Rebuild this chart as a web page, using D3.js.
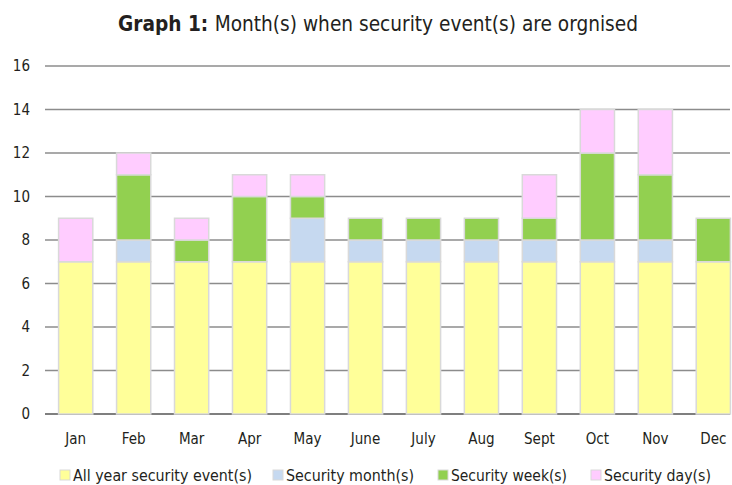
<!DOCTYPE html>
<html lang="en">
<head>
<meta charset="UTF-8">
<title>Graph 1</title>
<script src="https://cdnjs.cloudflare.com/ajax/libs/d3/7.8.5/d3.min.js"></script>
<style>
    body { margin: 0; background: #fff; }
    svg { display: block; font-family: "Liberation Sans Narrow", "DejaVu Sans Condensed", "DejaVu Sans", sans-serif; }
</style>
</head>
<body>
<svg id="chart" width="732" height="485"></svg>
<script>
// data
const months = ["Jan", "Feb", "Mar", "Apr", "May", "June", "July", "Aug", "Sept", "Oct", "Nov", "Dec"];
const allYear = [7, 7, 7, 7, 7, 7, 7, 7, 7, 7, 7, 7];
const secMonth = [0, 1, 0, 0, 2, 1, 1, 1, 1, 1, 1, 0];
const secWeek = [0, 3, 1, 3, 1, 1, 1, 1, 1, 4, 3, 2];
const secDay = [2, 1, 1, 1, 1, 0, 0, 0, 2, 2, 3, 0];
const seriesNames = ["All year security event(s)", "Security month(s)", "Security week(s)", "Security day(s)"];
const colors = ["#ffff99", "#c6d9f0", "#92d050", "#ffccff"];
const yTicks = [0, 2, 4, 6, 8, 10, 12, 14, 16];

const svg = d3.select("#chart");
const margin = {top: 66, right: 2, bottom: 71, left: 47};
const width = 732, height = 485;

const rows = months.map((m, i) => ({
    month: m, s0: allYear[i], s1: secMonth[i], s2: secWeek[i], s3: secDay[i]
}));
const stack = d3.stack().keys(["s0", "s1", "s2", "s3"])(rows);

const x = d3.scaleBand().domain(months)
    .range([margin.left, 742]).paddingInner(0.41).paddingOuter(0.2);
const y = d3.scaleLinear().domain([0, 16]).range([height - margin.bottom, margin.top]);

// title
const title = svg.append("text")
    .attr("x", 378).attr("y", 31)
    .attr("text-anchor", "middle")
    .attr("font-size", 21)
    .attr("fill", "#231f20")
    .attr("textLength", 520)
    .attr("lengthAdjust", "spacingAndGlyphs");
title.append("tspan").attr("font-weight", "bold").text("Graph 1: ");
title.append("tspan").text("Month(s) when security event(s) are orgnised");

// gridlines
svg.append("g").selectAll("line")
    .data(yTicks)
    .join("line")
    .attr("x1", margin.left - 2).attr("x2", 730)
    .attr("y1", d => y(d)).attr("y2", d => y(d))
    .attr("stroke", d => d === 0 ? "#555" : "#8c8c8c")
    .attr("stroke-width", 1.3);

// y tick labels
svg.append("g").selectAll("text")
    .data(yTicks)
    .join("text")
    .attr("x", 30).attr("y", d => y(d) + 5)
    .attr("text-anchor", "end")
    .attr("font-size", 15)
    .attr("fill", "#231f20")
    .text(d => d);

// bars
svg.append("g").selectAll("g")
    .data(stack)
    .join("g")
    .attr("fill", (d, i) => colors[i])
    .selectAll("rect")
    .data(d => d.filter(p => p[1] > p[0]))
    .join("rect")
    .attr("x", d => x(d.data.month))
    .attr("y", d => y(d[1]))
    .attr("width", x.bandwidth())
    .attr("height", d => y(d[0]) - y(d[1]))
    .attr("stroke", "#d9d9d9")
    .attr("stroke-width", 1.5);

// x labels
svg.append("g").selectAll("text")
    .data(months)
    .join("text")
    .attr("x", d => x(d) + x.bandwidth() / 2)
    .attr("y", 444)
    .attr("text-anchor", "middle")
    .attr("font-size", 15)
    .attr("fill", "#231f20")
    .text(d => d);

// legend
const legendX = [60, 273, 438, 591];
const legendW = [179, 128, 116, 107];
const leg = svg.append("g").selectAll("g")
    .data(seriesNames)
    .join("g")
    .attr("transform", (d, i) => `translate(${legendX[i]},470)`);
leg.append("rect")
    .attr("width", 10).attr("height", 10)
    .attr("fill", (d, i) => colors[i])
    .attr("stroke", "#d9d9d9");
leg.append("text")
    .attr("x", 13).attr("y", 11)
    .attr("font-size", 16)
    .attr("fill", "#231f20")
    .attr("textLength", (d, i) => legendW[i])
    .attr("lengthAdjust", "spacingAndGlyphs")
    .text(d => d);
</script>
</body>
</html>
